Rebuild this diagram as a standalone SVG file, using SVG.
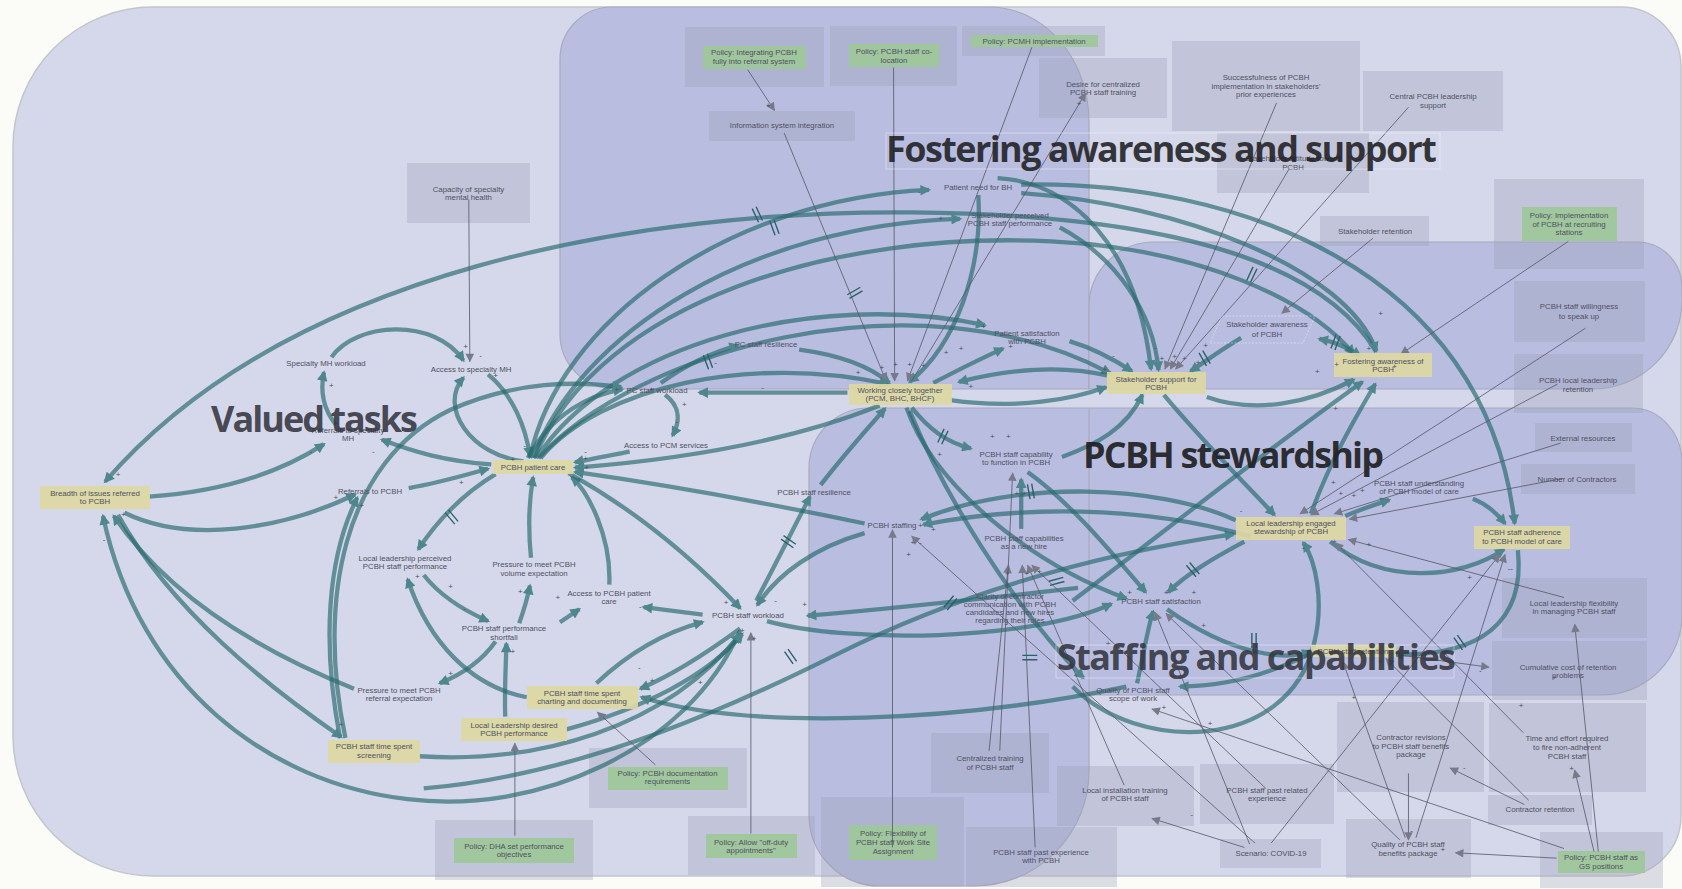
<svg xmlns="http://www.w3.org/2000/svg" width="1682" height="889" viewBox="0 0 1682 889">
<style>
.bg{fill:#fbfbf8}
.zo{fill:#d5d8ea;stroke:#c4c5ca;stroke-width:1.5}
.zd{fill:#b9bde0;stroke:#a9aabb;stroke-width:1.2}
.xb{fill:#9a9fb5;fill-opacity:.32}
.yel{fill:#ddd7a3;fill-opacity:.93}
.grn{fill:#9fc79b;fill-opacity:.95}
.lbl{font-family:"Liberation Sans",Arial,sans-serif;font-size:7.8px;fill:#4e5060;text-anchor:middle}
.fb{fill:none;stroke:#2a6a70;stroke-opacity:.68;stroke-width:4;marker-end:url(#ah)}
.ex{fill:none;stroke:#555866;stroke-width:.75;marker-end:url(#ag)}
.dl{fill:none;stroke:#2b6268;stroke-width:1.3}
.sg{font-family:"Liberation Sans",Arial,sans-serif;font-size:7.5px;fill:#4b4d58;text-anchor:middle}
.ttl{font-family:"Open Sans","Noto Sans",sans-serif;font-weight:700;font-size:36px}
.tb{fill:none;stroke:#ffffff;stroke-opacity:.4;stroke-width:1}
</style>
<defs>
<marker id="ah" viewBox="0 0 10 10" refX="8" refY="5" markerWidth="11" markerHeight="10" markerUnits="userSpaceOnUse" orient="auto-start-reverse">
<path d="M0,0 L10,5 L0,10 z" fill="#4f868d"/>
</marker>
<marker id="ag" viewBox="0 0 10 10" refX="9" refY="5" markerWidth="9" markerHeight="8" markerUnits="userSpaceOnUse" orient="auto">
<path d="M0,0 L10,5 L0,10 z" fill="#777a88"/>
</marker>
<path id="dly" d="M-2,-7 L-2,7 M2,-7 L2,7"/>
</defs>

<rect class="bg" x="0" y="0" width="1682" height="889"/>

<!-- zones -->
<g id="zones">
<path class="zo" d="M153,7 H1621 A60,60 0 0 1 1681,67 V816 A60,60 0 0 1 1621,876 H153 A140,140 0 0 1 13,736 V147 A140,140 0 0 1 153,7 Z"/>
<path class="zd" d="M612,7 H989 A100,115 0 0 1 1089,122 V389 H615 A55,55 0 0 1 560,334 V59 A52,52 0 0 1 612,7 Z"/>
<path class="zd" d="M1154,242 H1637 A45,45 0 0 1 1682,287 V300 A89,89 0 0 1 1593,389 H1089 V307 A65,65 0 0 1 1154,242 Z"/>
<path class="zd" d="M869,408 H1632 A50,55 0 0 1 1682,463 V615 A80,80 0 0 1 1602,695 H1089 V771 A115,115 0 0 1 974,886 H880 A71,71 0 0 1 809,815 V468 A60,60 0 0 1 869,408 Z"/>
<line x1="1089" y1="408" x2="1089" y2="695" stroke="#a9aabb" stroke-width="1.2"/>
</g>

<!-- exogenous factors and policies -->
<g id="exogenous">
<g id="n-capacity-mh"><rect class="xb" x="407" y="163" width="123" height="60"/><text class="lbl"><tspan x="468.5" y="192">Capacity of specialty</tspan><tspan x="468.5" y="200">mental health</tspan></text></g>
<g id="n-info-system"><rect class="xb" x="709" y="111" width="146" height="30"/><text class="lbl" x="782" y="128">Information system integration</text></g>
<g id="n-desire-training"><rect class="xb" x="1039" y="58" width="128" height="60"/><text class="lbl"><tspan x="1103" y="87">Desire for centralized</tspan><tspan x="1103" y="95">PCBH staff training</tspan></text></g>
<g id="n-successfulness"><rect class="xb" x="1172" y="41" width="188" height="90"/><text class="lbl"><tspan x="1266" y="80">Successfulness of PCBH</tspan><tspan x="1266" y="88.5">implementation in stakeholders'</tspan><tspan x="1266" y="97">prior experiences</tspan></text></g>
<g id="n-central-support"><rect class="xb" x="1363" y="71" width="140" height="60"/><text class="lbl"><tspan x="1433" y="99">Central PCBH leadership</tspan><tspan x="1433" y="108">support</tspan></text></g>
<g id="n-stakeholder-attitude"><rect class="xb" x="1217" y="133" width="152" height="60"/><text class="lbl"><tspan x="1293" y="161">Stakeholder attitude toward</tspan><tspan x="1293" y="170">PCBH</tspan></text></g>
<g id="n-stakeholder-retention"><rect class="xb" x="1320" y="216" width="109" height="30"/><text class="lbl" x="1375" y="234">Stakeholder retention</text></g>
<g id="n-willingness"><rect class="xb" x="1514" y="281" width="131" height="61"/><text class="lbl"><tspan x="1579" y="309">PCBH staff willingness</tspan><tspan x="1579" y="319">to speak up</tspan></text></g>
<g id="n-leadership-retention"><rect class="xb" x="1514" y="354" width="129" height="59"/><text class="lbl"><tspan x="1578" y="383">PCBH local leadership</tspan><tspan x="1578" y="392">retention</tspan></text></g>
<g id="n-external"><rect class="xb" x="1535" y="423" width="97" height="29"/><text class="lbl" x="1583" y="441">External resources</text></g>
<g id="n-contractors"><rect class="xb" x="1521" y="464" width="114" height="30"/><text class="lbl" x="1577" y="482">Number of Contractors</text></g>
<g id="n-flexibility"><rect class="xb" x="1502" y="578" width="145" height="60"/><text class="lbl"><tspan x="1574" y="606">Local leadership flexibility</tspan><tspan x="1574" y="614">in managing PCBH staff</tspan></text></g>
<g id="n-cumulative-cost"><rect class="xb" x="1492" y="641" width="155" height="59"/><text class="lbl"><tspan x="1568" y="670">Cumulative cost of retention</tspan><tspan x="1568" y="678">problems</tspan></text></g>
<g id="n-time-effort"><rect class="xb" x="1489" y="703" width="157" height="89"/><text class="lbl"><tspan x="1567" y="741">Time and effort required</tspan><tspan x="1567" y="750">to fire non-adherent</tspan><tspan x="1567" y="759">PCBH staff</tspan></text></g>
<g id="n-contractor-retention"><rect class="xb" x="1488" y="795" width="104" height="30"/><text class="lbl" x="1540" y="812">Contractor retention</text></g>
<g id="n-contractor-revisions"><rect class="xb" x="1337" y="702" width="147" height="90"/><text class="lbl"><tspan x="1411" y="740">Contractor revisions</tspan><tspan x="1411" y="749">to PCBH staff benefits</tspan><tspan x="1411" y="757">package</tspan></text></g>
<g id="n-benefits"><rect class="xb" x="1346" y="819" width="125" height="59"/><text class="lbl"><tspan x="1408" y="847">Quality of PCBH staff</tspan><tspan x="1408" y="856">benefits package</tspan></text></g>
<g id="n-covid"><rect class="xb" x="1220" y="839" width="101" height="29"/><text class="lbl" x="1271" y="856">Scenario: COVID-19</text></g>
<g id="n-past-related"><rect class="xb" x="1200" y="764" width="134" height="60"/><text class="lbl"><tspan x="1267" y="793">PCBH staff past related</tspan><tspan x="1267" y="801">experience</tspan></text></g>
<g id="n-local-training"><rect class="xb" x="1057" y="766" width="137" height="60"/><text class="lbl"><tspan x="1125" y="793">Local installation training</tspan><tspan x="1125" y="801">of PCBH staff</tspan></text></g>
<g id="n-central-training"><rect class="xb" x="931" y="733" width="118" height="60"/><text class="lbl"><tspan x="990" y="761">Centralized training</tspan><tspan x="990" y="770">of PCBH staff</tspan></text></g>
<g id="n-past-experience"><rect class="xb" x="966" y="827" width="151" height="60"/><text class="lbl"><tspan x="1041" y="855">PCBH staff past experience</tspan><tspan x="1041" y="863">with PCBH</tspan></text></g>

<g id="p-referral-system"><rect class="xb" x="685" y="27" width="139" height="60"/><rect class="grn" x="703" y="46" width="103" height="23"/><text class="lbl"><tspan x="754" y="55">Policy: Integrating PCBH</tspan><tspan x="754" y="64">fully into referral system</tspan></text></g>
<g id="p-colocation"><rect class="xb" x="830" y="26" width="127" height="60"/><rect class="grn" x="849" y="44" width="90" height="23"/><text class="lbl"><tspan x="894" y="54">Policy: PCBH staff co-</tspan><tspan x="894" y="62.5">location</tspan></text></g>
<g id="p-pcmh"><rect class="xb" x="962" y="26" width="143" height="30"/><rect class="grn" x="971" y="35" width="127" height="12"/><text class="lbl" x="1034" y="44">Policy: PCMH implementation</text></g>
<g id="p-recruiting"><rect class="xb" x="1494" y="179" width="150" height="90"/><rect class="grn" x="1522" y="207" width="95" height="34"/><text class="lbl"><tspan x="1569" y="218">Policy: Implementation</tspan><tspan x="1569" y="227">of PCBH at recruiting</tspan><tspan x="1569" y="235">stations</tspan></text></g>
<g id="p-documentation"><rect class="xb" x="589" y="748" width="158" height="60"/><rect class="grn" x="608" y="767" width="120" height="23"/><text class="lbl"><tspan x="667.5" y="776">Policy: PCBH documentation</tspan><tspan x="667.5" y="784">requirements</tspan></text></g>
<g id="p-dha"><rect class="xb" x="435" y="820" width="158" height="60"/><rect class="grn" x="454" y="838" width="120" height="25"/><text class="lbl"><tspan x="514" y="849">Policy: DHA set performance</tspan><tspan x="514" y="857">objectives</tspan></text></g>
<g id="p-off-duty"><rect class="xb" x="688" y="816" width="127" height="59"/><rect class="grn" x="706" y="834" width="91" height="24"/><text class="lbl"><tspan x="751" y="845">Policy: Allow &quot;off-duty</tspan><tspan x="751" y="853">appointments&quot;</tspan></text></g>
<g id="p-flexibility"><rect class="xb" x="821" y="797" width="143" height="90"/><rect class="grn" x="849" y="825" width="88" height="35"/><text class="lbl"><tspan x="893" y="836">Policy: Flexibility of</tspan><tspan x="893" y="845">PCBH staff Work Site</tspan><tspan x="893" y="854">Assignment</tspan></text></g>
<g id="p-gs"><rect class="xb" x="1540" y="832" width="123" height="56"/><rect class="grn" x="1558" y="851" width="87" height="22"/><text class="lbl"><tspan x="1601" y="860">Policy: PCBH staff as</tspan><tspan x="1601" y="869">GS positions</tspan></text></g>
</g>

<!-- causal links -->
<g id="connectors" transform="scale(1.0727)">
<g id="links-feedback">
<path class="fb" d="M1283,328 C1230,240 1080,200 850,198 C600,196 270,250 98,449"/>
<path class="fb" d="M139,463 C210,458 262,440 302,414"/>
<path class="fb" d="M116,478 C175,507 262,494 331,461"/>
<path class="fb" d="M458,433 C415,430 385,421 356,410"/>
<path class="fb" d="M381,455 C410,450 433,443 455,437"/>
<path class="fb" d="M309,333 C332,300 405,296 432,336"/>
<path class="fb" d="M313,396 C302,382 298,366 302,347"/>
<path class="fb" d="M455,349 C478,368 490,398 494,425"/>
<path class="fb" d="M488,430 C440,425 408,380 432,352"/>
<path class="fb" d="M494,427 C520,300 680,185 866,177"/>
<path class="fb" d="M497,427 C540,310 700,210 895,204"/>
<path class="fb" d="M500,427 C570,320 760,270 918,303"/>
<path class="fb" d="M502,427 C590,330 850,250 1035,348"/>
<path class="fb" d="M498,427 C560,280 780,215 980,225 C1120,232 1220,280 1262,330"/>
<path class="fb" d="M504,427 C560,360 700,330 828,358"/>
<path class="fb" d="M492,427 C515,385 550,368 580,363"/>
<path class="fb" d="M322,688 C295,560 320,430 420,382 C480,355 540,355 579,361"/>
<path class="fb" d="M317,688 C300,600 305,520 333,464"/>
<path class="fb" d="M110,480 C160,570 250,640 318,687"/>
<path class="fb" d="M330,642 C250,610 160,560 106,481"/>
<path class="fb" d="M690,588 C640,700 500,760 380,745 C250,730 130,640 96,481"/>
<path class="fb" d="M391,705 C500,712 620,680 690,591"/>
<path class="fb" d="M528,680 C600,660 660,630 692,591"/>
<path class="fb" d="M462,442 C432,460 410,482 390,512"/>
<path class="fb" d="M395,536 C410,555 430,568 455,579"/>
<path class="fb" d="M462,598 C450,615 432,628 410,637"/>
<path class="fb" d="M484,581 C488,570 492,556 494,546"/>
<path class="fb" d="M495,520 C492,490 494,462 497,445"/>
<path class="fb" d="M471,668 C470,640 472,615 472,600"/>
<path class="fb" d="M522,580 C528,576 534,572 540,568"/>
<path class="fb" d="M568,545 C570,500 548,458 533,445"/>
<path class="fb" d="M655,573 C632,570 615,568 600,566"/>
<path class="fb" d="M491,650 C440,640 400,600 380,540"/>
<path class="fb" d="M690,586 C660,608 630,628 597,642"/>
<path class="fb" d="M556,637 C590,605 625,588 655,580"/>
<path class="fb" d="M530,441 C600,480 655,530 690,567"/>
<path class="fb" d="M820,378 C740,410 640,428 536,436"/>
<path class="fb" d="M806,488 C720,470 620,452 536,440"/>
<path class="fb" d="M587,421 C566,425 550,428 536,431"/>
<path class="fb" d="M620,368 C636,380 633,395 627,406"/>
<path class="fb" d="M616,357 C640,340 665,328 688,322"/>
<path class="fb" d="M745,326 C790,332 815,345 829,357"/>
<path class="fb" d="M790,366 L652,366"/>
<path class="fb" d="M765,452 C790,420 810,398 825,381"/>
<path class="fb" d="M705,560 C722,528 740,492 755,463"/>
<path class="fb" d="M806,497 C760,510 725,535 706,564"/>
<path class="fb" d="M715,579 C790,600 960,598 1036,563"/>
<path class="fb" d="M1005,548 C900,560 800,570 753,574"/>
<path class="fb" d="M1050,640 C900,672 700,682 598,650"/>
<path class="fb" d="M395,735 C550,722 700,650 780,610 C880,560 1000,520 1150,498"/>
<path class="fb" d="M886,373 C950,382 1000,372 1031,361"/>
<path class="fb" d="M1032,350 C990,340 940,344 894,356"/>
<path class="fb" d="M870,357 C895,344 915,334 935,325"/>
<path class="fb" d="M997,318 C1020,325 1040,336 1055,346"/>
<path class="fb" d="M912,182 C916,250 892,320 848,356"/>
<path class="fb" d="M850,380 C866,400 882,412 905,418"/>
<path class="fb" d="M990,426 C1022,414 1050,400 1065,368"/>
<path class="fb" d="M1157,315 C1140,325 1125,336 1110,346"/>
<path class="fb" d="M1268,332 C1255,323 1240,318 1230,316" marker-start="url(#ah)"/>
<path class="fb" d="M1125,370 C1170,386 1220,376 1262,354"/>
<path class="fb" d="M1222,479 C1240,430 1262,392 1282,358"/>
<path class="fb" d="M1085,368 C1120,410 1160,450 1188,480"/>
<path class="fb" d="M952,172 C1150,168 1385,250 1412,488"/>
<path class="fb" d="M952,180 C1100,190 1255,250 1283,327"/>
<path class="fb" d="M988,212 C1040,240 1075,290 1080,345"/>
<path class="fb" d="M930,166 C1000,170 1060,230 1073,344"/>
<path class="fb" d="M1240,505 C1290,546 1362,540 1402,512"/>
<path class="fb" d="M1373,465 C1386,470 1395,478 1403,488"/>
<path class="fb" d="M1254,481 C1266,476 1280,471 1295,466"/>
<path class="fb" d="M1415,513 C1422,580 1380,612 1300,610"/>
<path class="fb" d="M1152,485 C1080,452 950,447 859,484"/>
<path class="fb" d="M1166,500 C1060,470 950,472 861,489"/>
<path class="fb" d="M958,440 C1000,470 1040,520 1068,552"/>
<path class="fb" d="M1160,505 C1132,520 1106,535 1089,552"/>
<path class="fb" d="M1088,568 C1150,612 1200,616 1222,607"/>
<path class="fb" d="M845,380 C870,452 960,525 1050,558"/>
<path class="fb" d="M1060,637 C1066,610 1070,585 1075,570"/>
<path class="fb" d="M1000,640 C1060,702 1200,702 1225,600 C1235,560 1226,522 1215,506"/>
<path class="fb" d="M1220,610 C1180,630 1140,640 1100,640"/>
<path class="fb" d="M848,383 C880,460 940,560 1010,632"/>
<path class="fb" d="M952,493 L952,447"/>
<path class="fb" d="M1000,560 C1080,500 1180,420 1270,356"/>
</g>
<g id="links-exogenous">
<path class="ex" d="M697,65 L722,103"/>
<path class="ex" d="M731,124 L826,355"/>
<path class="ex" d="M833,63 L834,355"/>
<path class="ex" d="M962,44 L846,355"/>
<path class="ex" d="M850,355 L1012,87"/>
<path class="ex" d="M437,186 L438,337"/>
<path class="ex" d="M1190,96 L1086,344"/>
<path class="ex" d="M1202,157 L1091,344"/>
<path class="ex" d="M1313,100 L1096,344"/>
<path class="ex" d="M1280,222 L1195,292"/>
<path class="ex" d="M1462,225 L1306,330"/>
<path class="ex" d="M1478,306 L1212,479"/>
<path class="ex" d="M1452,358 L1222,480"/>
<path class="ex" d="M1455,413 L1244,479"/>
<path class="ex" d="M1457,446 L1258,484"/>
<path class="ex" d="M1458,557 L1257,503"/>
<path class="ex" d="M1490,794 L1468,582"/>
<path class="ex" d="M1486,794 L1468,718"/>
<path class="ex" d="M1451,800 L1357,795"/>
<path class="ex" d="M1458,791 L1074,661"/>
<path class="ex" d="M1421,750 L1352,716"/>
<path class="ex" d="M1313,721 L1313,783"/>
<path class="ex" d="M1160,790 L1074,763"/>
<path class="ex" d="M1165,787 L1077,571"/>
<path class="ex" d="M1185,786 L1398,517"/>
<path class="ex" d="M1305,783 L1087,572"/>
<path class="ex" d="M1320,781 L1403,517"/>
<path class="ex" d="M1310,781 L1252,617"/>
<path class="ex" d="M1420,683 L1245,506"/>
<path class="ex" d="M1425,746 L1292,614"/>
<path class="ex" d="M922,700 L940,527"/>
<path class="ex" d="M932,700 L944,441"/>
<path class="ex" d="M965,790 L953,527"/>
<path class="ex" d="M1048,732 L958,527"/>
<path class="ex" d="M1180,735 L962,527"/>
<path class="ex" d="M832,790 L832,494"/>
<path class="ex" d="M700,777 L700,590"/>
<path class="ex" d="M611,713 L557,664"/>
<path class="ex" d="M480,779 L480,693"/>
<path class="ex" d="M1170,786 L850,500"/>
<path class="ex" d="M1300,610 L1388,622" stroke-width="1.3"/>
</g>
<g id="delays" class="dl">
<use href="#dly" transform="translate(706,200) rotate(-25)"/>
<use href="#dly" transform="translate(722,212) rotate(-20)"/>
<use href="#dly" transform="translate(797,273) rotate(60)"/>
<use href="#dly" transform="translate(660,337) rotate(-20)"/>
<use href="#dly" transform="translate(421,482) rotate(-40)"/>
<use href="#dly" transform="translate(879,407) rotate(25)"/>
<use href="#dly" transform="translate(735,505) rotate(-55)"/>
<use href="#dly" transform="translate(737,612) rotate(-35)"/>
<use href="#dly" transform="translate(1167,256) rotate(25)"/>
<use href="#dly" transform="translate(1123,334) rotate(-30)"/>
<use href="#dly" transform="translate(1245,319) rotate(20)"/>
<use href="#dly" transform="translate(1112,531) rotate(-40)"/>
<use href="#dly" transform="translate(961,458) rotate(-10)"/>
<use href="#dly" transform="translate(985,542) rotate(75)"/>
<use href="#dly" transform="translate(886,562) rotate(40)"/>
<use href="#dly" transform="translate(960,613) rotate(90)"/>
<use href="#dly" transform="translate(1361,599) rotate(-35)"/>
<use href="#dly" transform="translate(1169,597) rotate(0)"/>
</g>
</g>

<!-- endogenous variables -->
<g id="variables">
<g id="n-breadth"><rect class="yel" x="40" y="486" width="110" height="23"/><text class="lbl"><tspan x="95" y="496">Breadth of issues referred</tspan><tspan x="95" y="504">to PCBH</tspan></text></g>
<g id="n-patient-care"><rect class="yel" x="493" y="460" width="80" height="14"/><text class="lbl" x="533" y="470">PCBH patient care</text></g>
<g id="n-working-together"><rect class="yel" x="849" y="384" width="103" height="21"/><text class="lbl"><tspan x="900" y="392.5">Working closely together</tspan><tspan x="900" y="401">(PCM, BHC, BHCF)</tspan></text></g>
<g id="n-stakeholder-support"><rect class="yel" x="1107" y="372" width="99" height="22"/><text class="lbl"><tspan x="1156" y="382">Stakeholder support for</tspan><tspan x="1156" y="390">PCBH</tspan></text></g>
<g id="n-fostering-awareness"><rect class="yel" x="1334" y="353" width="98" height="24"/><text class="lbl"><tspan x="1383" y="364">Fostering awareness of</tspan><tspan x="1383" y="372">PCBH</tspan></text></g>
<g id="n-leadership-stewardship"><rect class="yel" x="1236" y="517" width="110" height="23"/><text class="lbl"><tspan x="1291" y="526">Local leadership engaged</tspan><tspan x="1291" y="534">stewardship of PCBH</tspan></text></g>
<g id="n-adherence"><rect class="yel" x="1474" y="526" width="96" height="23"/><text class="lbl"><tspan x="1522" y="535">PCBH staff adherence</tspan><tspan x="1522" y="544">to PCBH model of care</tspan></text></g>
<g id="n-retention"><rect class="yel" x="1311" y="645" width="85" height="12"/><text class="lbl" x="1353" y="654">PCBH staff retention</text></g>
<g id="n-charting"><rect class="yel" x="527" y="686" width="111" height="23"/><text class="lbl"><tspan x="582" y="696">PCBH staff time spent</tspan><tspan x="582" y="704">charting and documenting</tspan></text></g>
<g id="n-leadership-desired"><rect class="yel" x="461" y="718" width="106" height="23"/><text class="lbl"><tspan x="514" y="728">Local Leadership desired</tspan><tspan x="514" y="736">PCBH performance</tspan></text></g>
<g id="n-screening"><rect class="yel" x="328" y="740" width="92" height="23"/><text class="lbl"><tspan x="374" y="749">PCBH staff time spent</tspan><tspan x="374" y="758">screening</tspan></text></g>

<g id="n-specialty-workload"><text class="lbl" x="326" y="366">Specialty MH workload</text></g>
<g id="n-access-specialty"><text class="lbl" x="471" y="372">Access to specialty MH</text></g>
<g id="n-referrals-specialty"><text class="lbl"><tspan x="348" y="433">Referrals to specialty</tspan><tspan x="348" y="441">MH</tspan></text></g>
<g id="n-referrals-pcbh"><text class="lbl" x="370" y="494">Referrals to PCBH</text></g>
<g id="n-leadership-perceived"><text class="lbl"><tspan x="405" y="561">Local leadership perceived</tspan><tspan x="405" y="569">PCBH staff performance</tspan></text></g>
<g id="n-pressure-volume"><text class="lbl"><tspan x="534" y="567">Pressure to meet PCBH</tspan><tspan x="534" y="576">volume expectation</tspan></text></g>
<g id="n-shortfall"><text class="lbl"><tspan x="504" y="631">PCBH staff performance</tspan><tspan x="504" y="640">shortfall</tspan></text></g>
<g id="n-pressure-referral"><text class="lbl"><tspan x="399" y="693">Pressure to meet PCBH</tspan><tspan x="399" y="701">referral expectation</tspan></text></g>
<g id="n-access-pcbh"><text class="lbl"><tspan x="609" y="596">Access to PCBH patient</tspan><tspan x="609" y="604">care</tspan></text></g>
<g id="n-pcbh-workload"><text class="lbl" x="748" y="618">PCBH staff workload</text></g>
<g id="n-pc-workload"><text class="lbl" x="657" y="393">PC staff workload</text></g>
<g id="n-pc-resilience"><text class="lbl" x="766" y="347">PC staff resilience</text></g>
<g id="n-access-pcm"><text class="lbl" x="666" y="448">Access to PCM services</text></g>
<g id="n-pcbh-resilience"><text class="lbl" x="814" y="495">PCBH staff resilience</text></g>
<g id="n-staffing"><text class="lbl" x="892" y="528">PCBH staffing</text></g>
<g id="n-capability"><text class="lbl"><tspan x="1016" y="457">PCBH staff capability</tspan><tspan x="1016" y="465">to function in PCBH</tspan></text></g>
<g id="n-new-hire"><text class="lbl"><tspan x="1024" y="541">PCBH staff capabilities</tspan><tspan x="1024" y="549">as a new hire</tspan></text></g>
<g id="n-clarity"><text class="lbl"><tspan x="1010" y="599">Clarity of contractor</tspan><tspan x="1010" y="607">communication with PCBH</tspan><tspan x="1010" y="615">candidates and new hires</tspan><tspan x="1010" y="623">regarding their roles</tspan></text></g>
<g id="n-satisfaction"><text class="lbl" x="1161" y="604">PCBH staff satisfaction</text></g>
<g id="n-scope"><text class="lbl"><tspan x="1133" y="693">Quality of PCBH staff</tspan><tspan x="1133" y="701">scope of work</tspan></text></g>
<g id="n-patient-need"><text class="lbl" x="978" y="190">Patient need for BH</text></g>
<g id="n-stakeholder-perceived"><text class="lbl"><tspan x="1010" y="218">Stakeholder perceived</tspan><tspan x="1010" y="226">PCBH staff performance</tspan></text></g>
<g id="n-patient-satisfaction"><text class="lbl"><tspan x="1027" y="336">Patient satisfaction</tspan><tspan x="1027" y="344">with PCBH</tspan></text></g>
<g id="n-stakeholder-awareness"><path d="M1222,316 L1315,316 L1303,343 L1210,343 Z" fill="none" stroke="#ffffff" stroke-opacity=".6" stroke-width=".7" stroke-dasharray="2 1.5"/><text class="lbl"><tspan x="1267" y="327">Stakeholder awareness</tspan><tspan x="1267" y="337">of PCBH</tspan></text></g>
<g id="n-understanding"><text class="lbl"><tspan x="1419" y="486">PCBH staff understanding</tspan><tspan x="1419" y="494">of PCBH model of care</tspan></text></g>
</g>

<!-- link polarities -->
<g id="polarities" transform="scale(1.0727)">
<text class="sg" x="110" y="445">+</text><text class="sg" x="290" y="423">-</text><text class="sg" x="348" y="423">-</text>
<text class="sg" x="309" y="362">+</text><text class="sg" x="448" y="334">-</text><text class="sg" x="434" y="325">+</text>
<text class="sg" x="462" y="352">+</text><text class="sg" x="489" y="418">-</text><text class="sg" x="478" y="431">+</text>
<text class="sg" x="430" y="452">+</text><text class="sg" x="313" y="466">+</text><text class="sg" x="97" y="505">-</text>
<text class="sg" x="115" y="482">+</text><text class="sg" x="337" y="474">+</text><text class="sg" x="420" y="549">+</text>
<text class="sg" x="389" y="540">+</text><text class="sg" x="433" y="570">-</text><text class="sg" x="485" y="554">+</text>
<text class="sg" x="420" y="630">+</text><text class="sg" x="478" y="610">+</text><text class="sg" x="520" y="559">+</text>
<text class="sg" x="597" y="568">-</text><text class="sg" x="677" y="564">+</text><text class="sg" x="723" y="562">-</text>
<text class="sg" x="750" y="566">+</text><text class="sg" x="692" y="590">+</text><text class="sg" x="703" y="598">+</text>
<text class="sg" x="653" y="639">+</text><text class="sg" x="596" y="625">-</text><text class="sg" x="608" y="637">+</text>
<text class="sg" x="318" y="678">+</text><text class="sg" x="546" y="423">-</text><text class="sg" x="546" y="430">+</text>
<text class="sg" x="547" y="438">+</text><text class="sg" x="607" y="365">+</text><text class="sg" x="575" y="365">+</text>
<text class="sg" x="638" y="379">+</text><text class="sg" x="631" y="395">-</text><text class="sg" x="667" y="340">-</text>
<text class="sg" x="711" y="364">-</text><text class="sg" x="857" y="181">-</text><text class="sg" x="877" y="206">+</text>
<text class="sg" x="800" y="350">+</text><text class="sg" x="822" y="345">+</text><text class="sg" x="835" y="342">+</text>
<text class="sg" x="848" y="342">+</text><text class="sg" x="861" y="343">+</text><text class="sg" x="882" y="331">+</text>
<text class="sg" x="917" y="307">+</text><text class="sg" x="905" y="363">+</text><text class="sg" x="896" y="327">+</text>
<text class="sg" x="942" y="325">+</text><text class="sg" x="1083" y="337">+</text><text class="sg" x="1095" y="335">+</text>
<text class="sg" x="1104" y="337">+</text><text class="sg" x="1117" y="340">+</text><text class="sg" x="1077" y="326">-</text>
<text class="sg" x="1038" y="334">-</text><text class="sg" x="1030" y="347">+</text><text class="sg" x="1124" y="324">+</text>
<text class="sg" x="1228" y="349">+</text><text class="sg" x="1246" y="342">+</text><text class="sg" x="1276" y="327">+</text>
<text class="sg" x="1300" y="344">+</text><text class="sg" x="1245" y="383">+</text><text class="sg" x="1370" y="541">+</text>
<text class="sg" x="1392" y="522">-</text><text class="sg" x="1408" y="532">--</text><text class="sg" x="1244" y="507">+</text>
<text class="sg" x="1258" y="520">-</text><text class="sg" x="1276" y="510">+</text><text class="sg" x="1243" y="452">+</text>
<text class="sg" x="1250" y="462">+</text><text class="sg" x="1262" y="464">+</text><text class="sg" x="1270" y="460">+</text>
<text class="sg" x="1215" y="513">-</text><text class="sg" x="1157" y="478">-</text><text class="sg" x="1122" y="585">+</text>
<text class="sg" x="1087" y="555">+</text><text class="sg" x="1053" y="555">+</text><text class="sg" x="1113" y="555">+</text>
<text class="sg" x="1033" y="602">+</text><text class="sg" x="1085" y="662">+</text><text class="sg" x="1128" y="677">+</text>
<text class="sg" x="1262" y="653">+</text><text class="sg" x="1287" y="619">+</text><text class="sg" x="1380" y="627">-</text>
<text class="sg" x="1418" y="660">+</text><text class="sg" x="1465" y="719">+</text><text class="sg" x="1449" y="634">+</text>
<text class="sg" x="1345" y="794">+</text><text class="sg" x="1365" y="718">-</text><text class="sg" x="1316" y="777">-</text>
<text class="sg" x="1111" y="762">-</text><text class="sg" x="876" y="426">+</text><text class="sg" x="925" y="409">+</text>
<text class="sg" x="940" y="409">+</text><text class="sg" x="948" y="462">+</text><text class="sg" x="955" y="462">+</text>
<text class="sg" x="963" y="462">+</text><text class="sg" x="939" y="537">+</text><text class="sg" x="957" y="537">+</text>
<text class="sg" x="969" y="535">+</text><text class="sg" x="858" y="492">+</text><text class="sg" x="870" y="496">+</text>
<text class="sg" x="851" y="508">+</text><text class="sg" x="858" y="508">-</text><text class="sg" x="847" y="519">+</text>
<text class="sg" x="716" y="101">+</text><text class="sg" x="1006" y="99">+</text><text class="sg" x="1287" y="295">+</text>
</g>

<!-- area titles -->
<g id="titles">
<rect class="tb" x="886" y="133" width="554" height="36"/>
<rect class="tb" x="1056" y="645" width="398" height="33"/>
<text class="ttl" x="211" y="432" fill="#34353f" fill-opacity=".9" textLength="207">Valued tasks</text>
<text class="ttl" x="886" y="162" fill="#1e1e22" fill-opacity=".88" textLength="551">Fostering awareness and support</text>
<text class="ttl" x="1083" y="468" fill="#1e1e22" fill-opacity=".92" textLength="301">PCBH stewardship</text>
<text class="ttl" x="1057" y="670" fill="#34353f" fill-opacity=".9" textLength="399">Staffing and capabilities</text>
</g>
</svg>
